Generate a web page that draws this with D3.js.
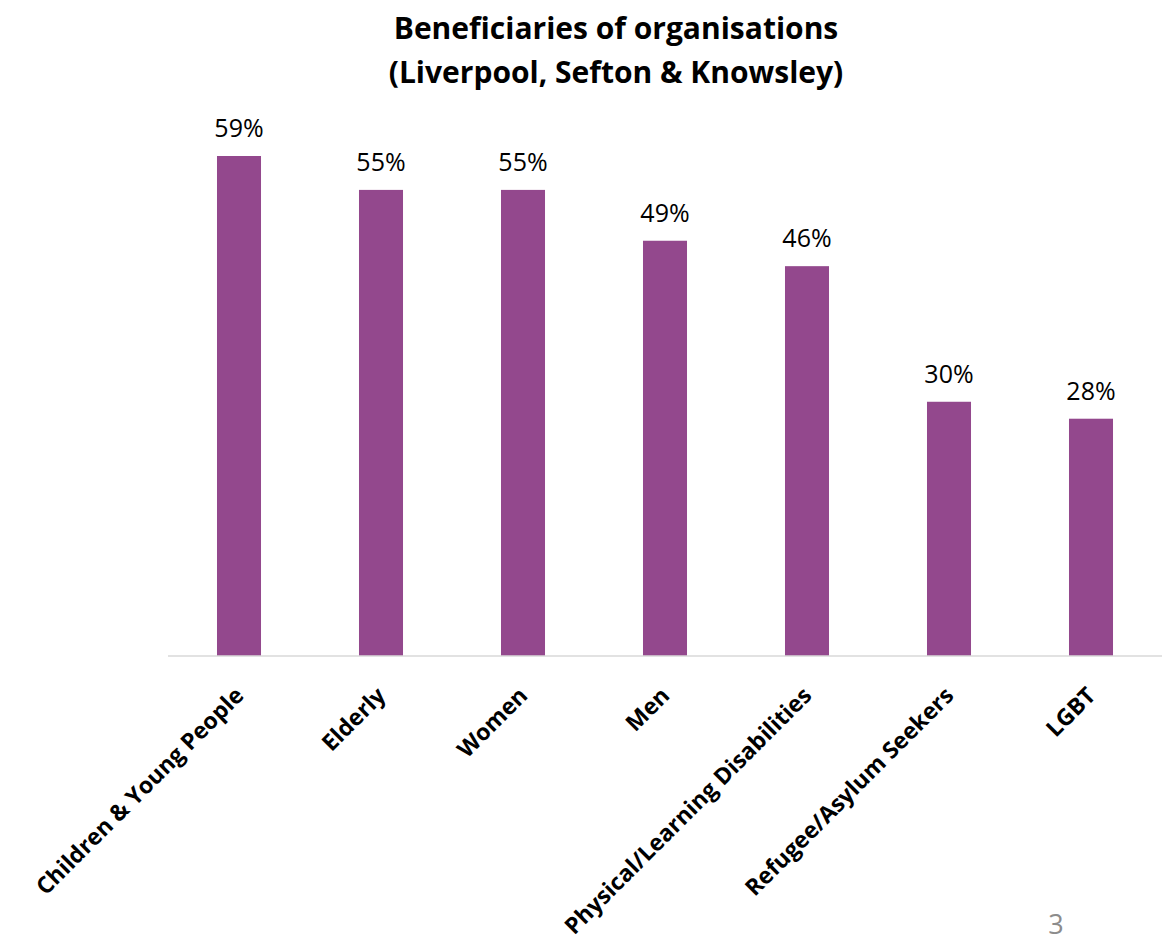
<!DOCTYPE html>
<html>
<head>
<meta charset="utf-8">
<script src="https://cdn.jsdelivr.net/npm/d3@7"></script>
<style>
  html, body { margin: 0; padding: 0; background: #fff; }
  svg { display: block; font-family: "Open Sans", "Noto Sans", sans-serif; }
</style>
</head>
<body>
<svg id="chart" width="1170" height="943"></svg>
<script>
// Beneficiary groups served by organisations
const categories = [
  "Children & Young People",
  "Elderly",
  "Women",
  "Men",
  "Physical/Learning Disabilities",
  "Refugee/Asylum Seekers",
  "LGBT"
];
const values = [59, 55, 55, 49, 46, 30, 28];
const titleLines = ["Beneficiaries of organisations", "(Liverpool, Sefton & Knowsley)"];
const pageNumber = "3";

const data = categories.map((c, i) => ({ category: c, value: values[i] }));

const svg = d3.select("#chart");
const baseline = 656;
const plotLeft = 168, plotRight = 1162;

const x = d3.scaleBand()
  .domain(categories)
  .range([plotLeft, plotRight])
  .paddingInner(0.69)
  .paddingOuter(0.345);

const y = d3.scaleLinear()
  .domain([0, 59])
  .range([baseline, 156]);

// Title
svg.append("g")
  .selectAll("text")
  .data(titleLines)
  .join("text")
  .attr("x", 616)
  .attr("y", (d, i) => 39 + i * 44)
  .attr("text-anchor", "middle")
  .attr("font-size", 30)
  .attr("font-weight", "bold")
  .attr("fill", "#000")
  .text(d => d);

// Bars
svg.append("g")
  .selectAll("rect")
  .data(data)
  .join("rect")
  .attr("x", d => x(d.category))
  .attr("y", d => y(d.value))
  .attr("width", x.bandwidth())
  .attr("height", d => y(0) - y(d.value))
  .attr("fill", "#93488d");

// Value labels
svg.append("g")
  .selectAll("text")
  .data(data)
  .join("text")
  .attr("x", d => x(d.category) + x.bandwidth() / 2)
  .attr("y", d => y(d.value) - 19)
  .attr("text-anchor", "middle")
  .attr("font-size", 25)
  .attr("fill", "#000")
  .text(d => d.value + "%");

// Category axis
const axis = svg.append("g")
  .attr("transform", `translate(0,${baseline})`)
  .call(d3.axisBottom(x).tickSize(0).tickSizeOuter(0));

axis.select(".domain")
  .attr("stroke", "#d9d9d9")
  .attr("stroke-width", 1.5)
  .attr("d", `M${plotLeft},0H${plotRight}`);

axis.selectAll(".tick text")
  .attr("font-family", "'Open Sans', 'Noto Sans', sans-serif")
  .attr("font-size", 23)
  .attr("font-weight", "bold")
  .attr("fill", "#000")
  .attr("text-anchor", "end")
  .attr("dy", null)
  .attr("y", 0)
  .attr("transform", "translate(6,41) rotate(-45)");

// Page number
svg.append("text")
  .attr("x", 1056)
  .attr("y", 934)
  .attr("text-anchor", "middle")
  .attr("font-size", 27)
  .attr("fill", "#8c8c8c")
  .text(pageNumber);
</script>
</body>
</html>
